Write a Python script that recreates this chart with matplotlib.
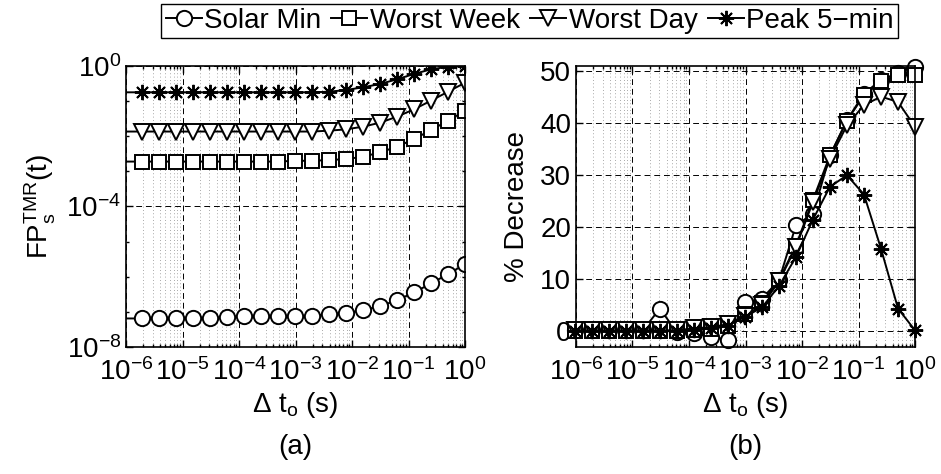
import numpy as np
import matplotlib
matplotlib.use('Agg')
import matplotlib.pyplot as plt
from matplotlib.ticker import LogLocator, NullFormatter, NullLocator

plt.rcParams['font.family'] = ['Liberation Sans', 'DejaVu Sans']
plt.rcParams['mathtext.fontset'] = 'custom'
plt.rcParams['mathtext.rm'] = 'Liberation Sans'
plt.rcParams['mathtext.it'] = 'Liberation Sans:italic'
plt.rcParams['mathtext.bf'] = 'Liberation Sans:bold'

# offset times: 2^-20 ... 2^0 seconds
dt = 2.0 ** np.arange(-20, 1)

series_names = ['Solar Min', 'Worst Week', 'Worst Day', 'Peak 5\u2212min']

# (a) FP_s^TMR(t)
fp_solar_min = [6.5e-8, 6.5e-8, 6.5e-8, 6.5e-8, 6.6e-8, 6.7e-8, 7.0e-8, 7.6e-8, 7.5e-8, 7.5e-8,
                7.5e-8, 7.7e-8, 8.6e-8, 9.4e-8, 1.12e-7, 1.45e-7, 2.15e-7, 3.57e-7, 6.45e-7,
                1.19e-6, 2.29e-6]
fp_worst_week = [0.0019, 0.0019, 0.0019, 0.0019, 0.0019, 0.0019, 0.0019, 0.0019, 0.0019, 0.0019,
                 0.0020, 0.0020, 0.0021, 0.00224, 0.0026, 0.00348, 0.00502, 0.0083, 0.0150,
                 0.0277, 0.0532]
fp_worst_day = [0.0136, 0.0136, 0.0136, 0.0136, 0.0136, 0.0136, 0.0136, 0.0136, 0.0136, 0.0136,
                0.0136, 0.0136, 0.0144, 0.0157, 0.0187, 0.0243, 0.036, 0.0584, 0.103, 0.185,
                0.334]
fp_peak_5min = [0.178, 0.178, 0.178, 0.178, 0.178, 0.178, 0.178, 0.178, 0.178, 0.178,
                0.178, 0.178, 0.185, 0.207, 0.247, 0.307, 0.418, 0.592, 0.805, 0.95, 0.99]

# (b) % decrease
dec_solar_min = [0.2, 0.2, 0.2, 0.2, 0.2, 4.4, -0.2, -0.4, -1.0, -1.6, 5.6, 6.3, 9.8, 20.4,
                 22.6, 33.8, 40.6, 45.7, 48.3, 49.7, 50.8]
dec_worst_week = [0.1, 0.1, 0.1, 0.1, 0.1, 0.1, 0.1, 0.3, 0.5, 1.0, 3.3, 5.5, 9.9, 16.5,
                  25.3, 33.8, 40.5, 45.4, 48.1, 49.2, 49.2]
dec_worst_day = [0.2, 0.2, 0.2, 0.2, 0.2, 0.2, 0.2, 0.6, 0.8, 1.4, 2.9, 5.0, 9.6, 16.2,
                 24.9, 33.2, 39.6, 43.5, 45.1, 44.1, 39.3]
dec_peak_5min = [0.1, 0.1, 0.1, 0.1, 0.1, 0.1, 0.1, 0.3, 0.6, 1.1, 2.8, 4.6, 8.7, 14.3,
                 21.5, 27.8, 30.0, 26.3, 15.9, 4.4, 0.2]

markers = ['o', 's', 'v', (8, 2, 0)]
msizes = [11, 9.5, 11.5, 11]

fig = plt.figure(figsize=(9.41, 4.74), dpi=100)
ax1 = fig.add_axes([0.1339, 0.2679, 0.3603, 0.5929])
ax2 = fig.add_axes([0.6121, 0.2679, 0.3603, 0.5929])

left_data = [fp_solar_min, fp_worst_week, fp_worst_day, fp_peak_5min]
right_data = [dec_solar_min, dec_worst_week, dec_worst_day, dec_peak_5min]

handles = []
for i in range(4):
    h, = ax1.plot(dt, left_data[i], color='k', lw=1.4, marker=markers[i], ms=msizes[i],
                  mfc='white', mec='k', mew=1.4, markevery=slice(1, None), label=series_names[i])
    handles.append(h)
    ax2.plot(dt, right_data[i], color='k', lw=1.4, marker=markers[i], ms=msizes[i],
             mfc='white', mec='k', mew=1.4, clip_on=False)

for ax in (ax1, ax2):
    ax.set_xscale('log')
    ax.set_xlim(1e-6, 1)
    ax.set_xticks([1e-6, 1e-5, 1e-4, 1e-3, 1e-2, 1e-1, 1])
    ax.xaxis.set_minor_locator(LogLocator(base=10, subs=np.arange(2, 10), numticks=20))
    ax.xaxis.set_minor_formatter(NullFormatter())
    ax.grid(which='major', color='k', linestyle=(0, (6, 4)), lw=0.7)
    ax.grid(which='minor', axis='x', color='0.55', linestyle=(0, (1, 3)), lw=0.6)
    ax.set_axisbelow(True)
    ax.tick_params(which='both', direction='in', top=True, right=True, labelsize=20, width=1)
    ax.tick_params(which='major', length=5)
    ax.tick_params(which='minor', length=2.5)
    ax.tick_params(axis='x', which='major', pad=8)
    for s in ax.spines.values():
        s.set_linewidth(1.2)
    ax.set_xlabel(r'$\Delta$ t$_\mathregular{o}$ (s)', fontsize=20)
    ax.xaxis.set_label_coords(0.5, -0.152)
    ax.xaxis.label.set_va('top')

ax1.set_yscale('log')
ax1.set_ylim(1e-8, 1)
ax1.set_yticks([1e-8, 1e-4, 1])
ax1.yaxis.set_minor_locator(LogLocator(base=10, subs=(1.0,), numticks=20))
ax1.yaxis.set_minor_formatter(NullFormatter())
ax1.set_ylabel(r'FP$_\mathregular{s}^\mathregular{TMR}$(t)', fontsize=20)
ax1.yaxis.set_label_coords(-0.2, 0.5)

ax2.set_ylim(-3, 51)
ax2.set_yticks([0, 10, 20, 30, 40, 50])
ax2.yaxis.set_minor_locator(NullLocator())
ax2.set_ylabel('% Decrease', fontsize=20)
ax2.yaxis.set_label_coords(-0.136, 0.5)

fig.text(0.314, 0.057, '(a)', ha='center', va='center', fontsize=20)
fig.text(0.792, 0.057, '(b)', ha='center', va='center', fontsize=20)

leg = fig.legend(handles=handles, loc='lower center', bbox_to_anchor=(0.563, 0.92), ncol=4,
                 fontsize=20, frameon=True, fancybox=False, edgecolor='k', framealpha=1,
                 handlelength=1.3, handletextpad=0.1, columnspacing=0.35, borderpad=0.15,
                 borderaxespad=0)
leg.get_frame().set_linewidth(1.0)

plt.savefig('out.png', dpi=100)
